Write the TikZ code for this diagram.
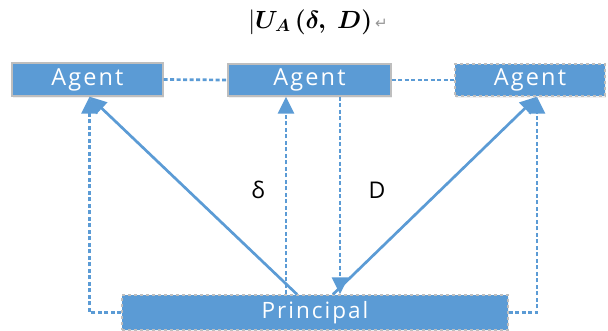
\documentclass[tikz,border=0pt]{standalone}
\usepackage{amsmath}
\usepackage{bm}
\usepackage{fontspec}
\setmainfont{Open Sans}
\newfontfamily\symfont{DejaVu Sans}
\newfontfamily\boxfont[LetterSpace=9]{Open Sans}
\usepackage{xcolor}
\definecolor{cBlue}{RGB}{91,155,213}
\definecolor{cEdge}{RGB}{190,190,190}
\definecolor{cGrey}{RGB}{150,150,150}
\usetikzlibrary{positioning, calc, arrows.meta, shadows}
\newcommand{\retmark}{{\symfont\color{cGrey}\fontsize{15}{18}\selectfont ↵}}

\begin{document}
\begin{tikzpicture}[x=1pt, y=-1pt, line width=2.7pt,
    boxn/.style={fill=cBlue, draw=cEdge, line width=1.3pt, text=white,
      font=\boxfont\fontsize{23.5}{26}\selectfont, inner sep=0pt,
      drop shadow={opacity=0.12, shadow xshift=1pt, shadow yshift=-2pt}},
    dboxn/.style={boxn, dashed},
    dline/.style={cBlue, dash pattern=on 4pt off 2.5pt},
    dar/.style={dline, -{Triangle[length=17pt,width=16pt]}},
    sar/.style={cBlue, -{Triangle[length=17pt,width=16pt]}}]
    \useasboundingbox (0,0) rectangle (608,331);

    % ---------- title ----------
    \node[font=\fontsize{27}{30}\selectfont] (title) at (318,22)
      {$|\bm{U_{A}\,(\delta,\ D)}$\hspace{3pt}\retmark};

    % ---------- boxes ----------
    \node[boxn, minimum width=151pt, minimum height=33pt] (agentA) at (87.5,79.5) {Agent};
    \node[boxn, minimum width=163pt, minimum height=32pt] (agentB) at (309.5,80) {Agent};
    \node[dboxn, minimum width=150pt, minimum height=32pt] (agentC) at (530,80) {Agent};
    \node[dboxn, minimum width=386pt, minimum height=35pt,
      font=\boxfont\fontsize{22.5}{26}\selectfont] (principal) at (315,312.5) {Principal};

    % ---------- links between agents ----------
    \draw[dline] (agentA.east) -- (agentB.west);
    \draw[dline] (agentB.east) -- (agentC.west);

    % ---------- outer loops ----------
    \coordinate (tipA) at ([xshift=2pt]agentA.south);
    \coordinate (tipC) at ([xshift=7pt]agentC.south);
    \draw[dar] (principal.west) -| (tipA);
    \draw[dar] (principal.east) -| (tipC);

    % ---------- offer and reply ----------
    \coordinate (dOut) at ([xshift=-29pt]principal.north);
    \coordinate (DIn) at ([xshift=25pt]principal.north);
    \draw[dar] (dOut) -- (dOut |- agentB.south);
    \draw[dar] (DIn |- agentB.south) -- (DIn);
    \node[font=\fontsize{23}{26}\selectfont] (delta) at (258,190) {δ};
    \node[font=\fontsize{23}{26}\selectfont] (dval) at (377,190) {D};

    % ---------- direct arrows ----------
    \draw[sar] ([xshift=-18pt]principal.north) -- (tipA);
    \draw[sar] ([xshift=18pt]principal.north) -- (tipC);
\end{tikzpicture}
\end{document}
